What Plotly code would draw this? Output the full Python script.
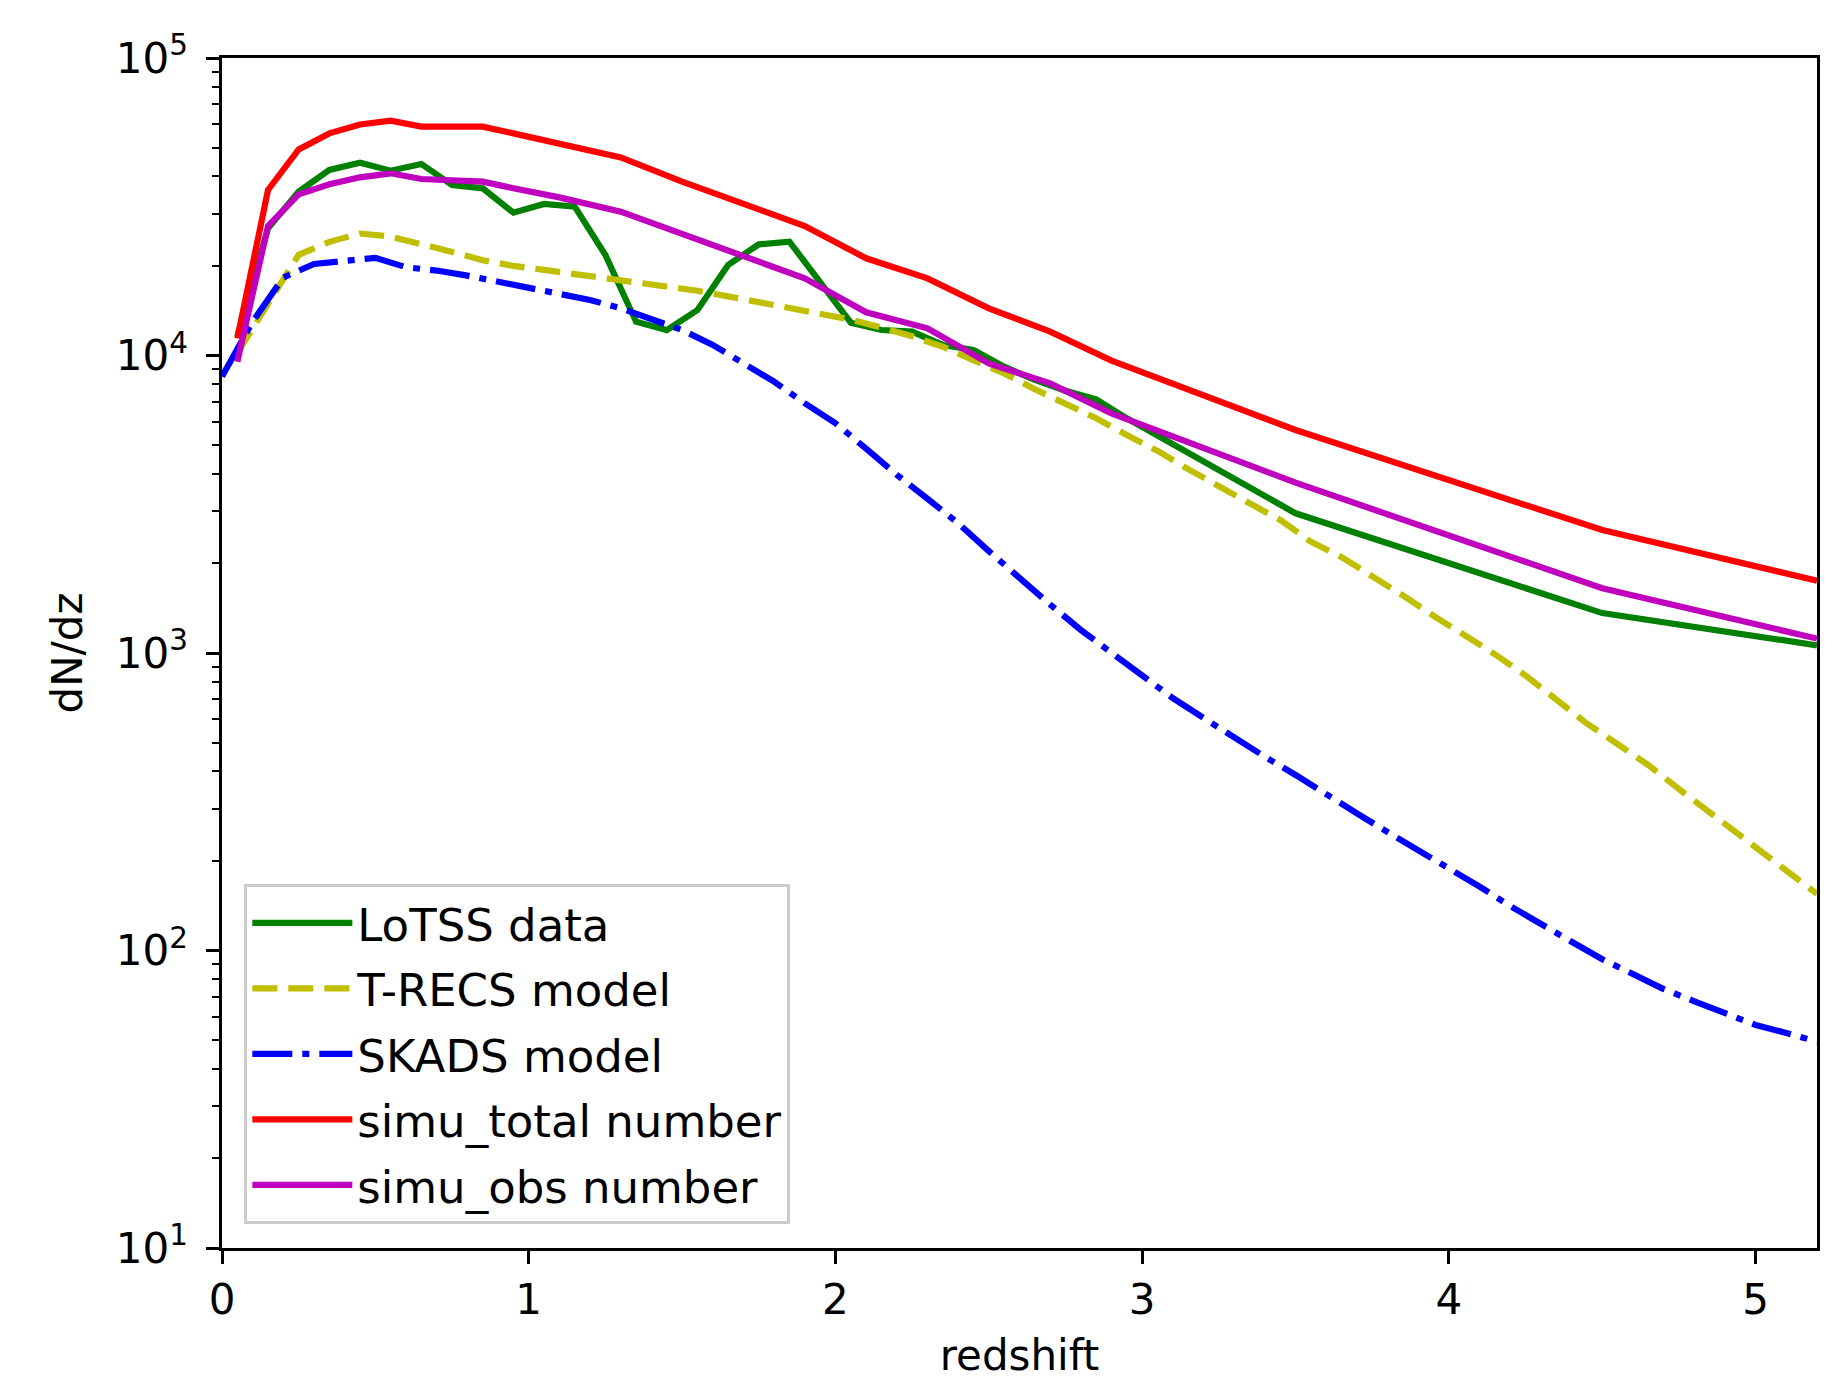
import plotly.graph_objects as go

# ---------------- data ----------------
z_lotss = [0.05, 0.15, 0.25, 0.35, 0.45, 0.55, 0.65, 0.75, 0.85, 0.95,
           1.05, 1.15, 1.25, 1.35, 1.45, 1.55, 1.65, 1.75, 1.85, 1.95,
           2.05, 2.15, 2.25, 2.35, 2.45, 2.55, 2.65, 2.75, 2.85, 2.95,
           3.5, 4.5, 5.2]
n_lotss = [11570, 26750, 35540, 42030, 44480, 41810, 44020, 37430, 36470, 30210,
           32300, 31640, 21770, 12990, 12180, 14220, 20150, 23640, 24130, 17650,
           12890, 12180, 12030, 10850, 10430, 9175, 8275, 7617, 7123, 6150,
           2948, 1362, 1061]

z_trecs = [0.05, 0.15, 0.25, 0.35, 0.45, 0.55, 0.65, 0.75, 0.85, 0.95,
           1.05, 1.15, 1.25, 1.35, 1.45, 1.55, 1.65, 1.75, 1.85, 1.95,
           2.05, 2.15, 2.25, 2.35, 2.45, 2.55, 2.65, 2.75, 2.85, 2.95,
           3.05, 3.15, 3.25, 3.35, 3.45, 3.55, 3.65, 3.75, 3.85, 3.95,
           4.05, 4.15, 4.25, 4.35, 4.45, 4.55, 4.65, 4.75, 4.85, 4.95,
           5.05, 5.15, 5.2]
n_trecs = [10200, 15000, 21800, 24100, 25700, 25100, 23800, 22300, 20900, 20000,
           19400, 18800, 18200, 17600, 17000, 16500, 15800, 15100, 14500, 13900,
           13200, 12400, 11600, 10700, 9600, 8700, 7700, 6900, 6150, 5400,
           4780, 4150, 3660, 3185, 2800, 2367, 2100, 1818, 1562, 1333,
           1153, 990, 840, 697, 579, 494, 420, 349, 292, 245,
           205, 169, 155]

z_skads = [0.0, 0.1, 0.2, 0.3, 0.4, 0.5, 0.6, 0.7, 0.8, 0.9,
           1.0, 1.1, 1.2, 1.3, 1.4, 1.5, 1.6, 1.7, 1.8, 1.9,
           2.0, 2.1, 2.2, 2.3, 2.4, 2.5, 2.6, 2.7, 2.8, 2.9,
           3.0, 3.1, 3.2, 3.3, 3.4, 3.5, 3.6, 3.7, 3.8, 3.9,
           4.0, 4.1, 4.2, 4.3, 4.4, 4.5, 4.6, 4.7, 4.8, 4.9,
           5.0, 5.1, 5.2]
n_skads = [8500, 13000, 18300, 20300, 20800, 21300, 19800, 19300, 18550, 17700,
           16800, 16060, 15370, 14410, 13330, 12180, 10850, 9450, 8170, 6910,
           5920, 4860, 3970, 3300, 2730, 2200, 1782, 1455, 1195, 1005,
           840, 705, 605, 517, 448, 389, 333, 289, 250, 218,
           189, 164, 141, 122, 107, 93.5, 83, 74.2, 67.5, 61.2,
           56.2, 52.8, 49.4]

z_simu = [0.05, 0.15, 0.25, 0.35, 0.45, 0.55, 0.65, 0.75, 0.85, 0.95,
          1.1, 1.3, 1.5, 1.7, 1.9, 2.1, 2.3, 2.5, 2.7, 2.9,
          3.5, 4.5, 5.2]
n_simu_total = [11420, 36000, 49300, 55800, 59800, 61600, 58800, 58800, 58800, 55800,
                51500, 46350, 38400, 32300, 27240, 21220, 18170, 14410, 12030, 9610,
                5620, 2590, 1750]
n_simu_obs = [9530, 27240, 34810, 37620, 39710, 40960, 39200, 38590, 38390, 36500,
              34000, 30450, 25700, 21700, 18170, 13970, 12340, 9410, 8060, 6390,
              3737, 1650, 1118]

series_names = ["LoTSS data", "T-RECS model", "SKADS model",
                "simu_total number", "simu_obs number"]
x_ticks = [0, 1, 2, 3, 4, 5]
y_tickvals = [10, 100, 1000, 10000, 100000]
y_ticktext = ["10<sup>1</sup>", "10<sup>2</sup>", "10<sup>3</sup>",
              "10<sup>4</sup>", "10<sup>5</sup>"]

# ---------------- figure ----------------
FONT = "DejaVu Sans"
LW = 6.2

fig = go.Figure()
fig.add_trace(go.Scatter(x=z_lotss, y=n_lotss, mode="lines", name=series_names[0],
                         legendgroup="g1",
                         line=dict(color="#008000", width=LW)))
fig.add_trace(go.Scatter(x=z_trecs, y=n_trecs, mode="lines", name=series_names[1],
                         legendgroup="g2",
                         line=dict(color="#bfbf00", width=LW, dash="25px,11px")))
fig.add_trace(go.Scatter(x=z_skads, y=n_skads, mode="lines", name=series_names[2],
                         legendgroup="g3",
                         line=dict(color="#0000ff", width=LW, dash="40px,10px,7px,10px")))
fig.add_trace(go.Scatter(x=z_simu, y=n_simu_total, mode="lines", name=series_names[3],
                         legendgroup="g4",
                         line=dict(color="#ff0000", width=LW)))
fig.add_trace(go.Scatter(x=z_simu, y=n_simu_obs, mode="lines", name=series_names[4],
                         legendgroup="g5",
                         line=dict(color="#bf00bf", width=LW)))

fig.update_layout(
    width=1832, height=1394,
    margin=dict(l=222, r=15, t=58, b=146),
    paper_bgcolor="white", plot_bgcolor="white",
    font=dict(family=FONT, size=42, color="black"),
    showlegend=True,
    legend=dict(
        x=0.014, y=0.02, xanchor="left", yanchor="bottom",
        bgcolor="white", bordercolor="#cccccc", borderwidth=3,
        font=dict(family=FONT, size=45, color="black"),
        itemwidth=100, tracegroupgap=4,
    ),
)

fig.update_xaxes(
    range=[0, 5.2], tickvals=x_ticks, ticktext=[str(t) for t in x_ticks],
    showgrid=False, zeroline=False,
    showline=True, linecolor="black", linewidth=2.5, mirror=True,
    ticks="outside", ticklen=13, tickwidth=2.5, tickcolor="black",
    tickfont=dict(family=FONT, size=42, color="black"),
    title=dict(text="redshift", font=dict(family=FONT, size=42, color="black"), standoff=18),
)
fig.update_yaxes(
    type="log", range=[1, 5], tickvals=y_tickvals, ticktext=y_ticktext,
    showgrid=False, zeroline=False,
    showline=True, linecolor="black", linewidth=2.5, mirror=True,
    ticks="outside", ticklen=13, tickwidth=2.5, tickcolor="black",
    tickfont=dict(family=FONT, size=42, color="black"),
    ticklabelstandoff=10,
    minor=dict(ticks="outside", ticklen=7, tickwidth=2, tickcolor="black",
               dtick="D1", showgrid=False),
    title=dict(text="dN/dz", font=dict(family=FONT, size=42, color="black"), standoff=20),
)

fig.write_html("out.html")
